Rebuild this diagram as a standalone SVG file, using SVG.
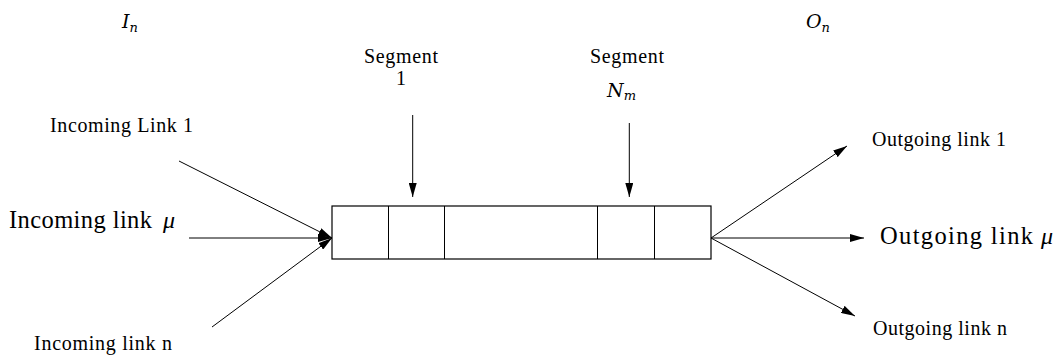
<svg xmlns="http://www.w3.org/2000/svg" width="1054" height="356" viewBox="0 0 1054 356">
<style>
.t{font-family:"Liberation Serif","Times New Roman",serif;fill:#000}
.s{font-size:20px}
.l{font-size:24.5px}
.m{font-family:"DejaVu Serif","Liberation Serif",serif;font-style:italic;font-size:19px;fill:#000}
.g{font-family:"Liberation Serif","DejaVu Serif",serif;font-style:italic;font-size:24px;fill:#000}
.sub{font-size:13px}
.c{stroke:#000;stroke-width:1;fill:none}
.b{stroke:#000;stroke-width:1.2;fill:#fff}
</style>
<defs>
<marker id="ah" viewBox="0 0 14 8" refX="14" refY="4" markerWidth="14" markerHeight="8" markerUnits="userSpaceOnUse" orient="auto">
<path d="M0,0 L14,4 L0,8 Z" fill="#000"/>
</marker>
</defs>
<rect width="1054" height="356" fill="#fff"/>
<g id="labels-top">
<text class="m" x="122" y="28">I<tspan class="sub" dy="4">n</tspan></text>
<text class="m" x="806" y="28">O<tspan class="sub" dy="4">n</tspan></text>
</g>
<g id="buffer">
<rect class="b" x="332" y="206" width="379" height="53"/>
<line class="c" x1="388.5" y1="206" x2="388.5" y2="259"/>
<line class="c" x1="444.5" y1="206" x2="444.5" y2="259"/>
<line class="c" x1="597.5" y1="206" x2="597.5" y2="259"/>
<line class="c" x1="654.5" y1="206" x2="654.5" y2="259"/>
</g>
<g id="seg1">
<text class="t s" x="401" y="63" text-anchor="middle" textLength="74">Segment</text>
<text class="t s" x="401" y="85" text-anchor="middle">1</text>
</g>
<g id="segNm">
<text class="t s" x="627" y="63" text-anchor="middle" textLength="74">Segment</text>
<text class="m" x="607" y="97">N<tspan class="sub" dy="3">m</tspan></text>
</g>
<g id="in1"><text class="t s" x="50" y="132" textLength="143">Incoming Link 1</text></g>
<g id="inmu"><text class="t l" x="9" y="228" textLength="143">Incoming link</text><text class="g" x="163" y="228">μ</text></g>
<g id="inn"><text class="t s" x="34" y="350" textLength="138">Incoming link n</text></g>
<g id="out1"><text class="t s" x="872" y="146" textLength="134">Outgoing link 1</text></g>
<g id="outmu"><text class="t l" x="880" y="244" textLength="153">Outgoing link</text><text class="g" x="1041" y="244">μ</text></g>
<g id="outn"><text class="t s" x="873" y="335" textLength="134">Outgoing link n</text></g>
<g id="connectors">
<line class="c" x1="412.7" y1="115" x2="412.7" y2="197" marker-end="url(#ah)"/>
<line class="c" x1="629.3" y1="123" x2="629.3" y2="197" marker-end="url(#ah)"/>
<line class="c" x1="179" y1="161" x2="332" y2="238" marker-end="url(#ah)"/>
<line class="c" x1="189" y1="238" x2="332" y2="238" marker-end="url(#ah)"/>
<line class="c" x1="212" y1="327" x2="332" y2="238" marker-end="url(#ah)"/>
<line class="c" x1="711" y1="238" x2="847" y2="146" marker-end="url(#ah)"/>
<line class="c" x1="711" y1="238" x2="864" y2="238" marker-end="url(#ah)"/>
<line class="c" x1="711" y1="238" x2="855" y2="316" marker-end="url(#ah)"/>
</g>
</svg>
